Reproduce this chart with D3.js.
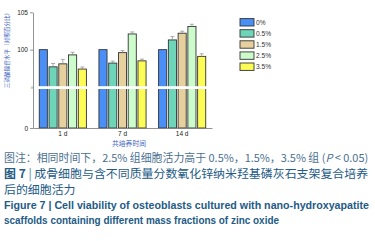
<!DOCTYPE html>
<html>
<head>
<meta charset="utf-8">
<script src="https://cdn.jsdelivr.net/npm/d3@7"></script>
<style>
  body { margin: 0; background: #fff; }
  svg { display: block; }
  .tick text { font-family: "Liberation Sans", Arial, sans-serif; }
</style>
</head>
<body>
<svg id="chart" width="375" height="241"></svg>
<script>
// data
const days = ['1 d', '7 d', '14 d'];
const groups = ['0%', '0.5%', '1.5%', '2.5%', '3.5%'];
const colors = ['#4a8ff5', '#6fd5b9', '#e6d19e', '#ccfccc', '#fdfb55'];
const values = [
  [100, 97.7, 98.1, 99.3, 97.4],
  [100, 98.2, 99.6, 102.1, 98.5],
  [100, 101.3, 102.2, 103.1, 99.1]
];
const errors = [
  [0, 0.45, 0.6, 0.35, 0.27],
  [0, 0.27, 0.27, 0.27, 0.23],
  [0, 0.45, 0.27, 0.3, 0.35]
];
const yTicks = [0, 100, 105];

const svg = d3.select('#chart');
const cnFont = '"Noto Sans CJK SC", "Noto Sans", sans-serif';
const enFont = '"Liberation Sans", Arial, sans-serif';

// shrink/grow a text's font so it spans the given width
const fitWidth = (sel, target) => {
  const fs = +sel.attr('font-size');
  const w = sel.node().getComputedTextLength();
  sel.attr('font-size', (fs * target / w).toFixed(2));
};

// broken axis: 0..95 squeezed into the bottom, 95..105 stretched on top
const y = d3.scaleLinear().domain([0, 95, 105]).range([128, 87, 12.3]);
const x0 = d3.scaleBand().domain(days).range([33, 212]).paddingInner(0.21).paddingOuter(0.105);
const x1 = d3.scaleBand().domain(groups).range([0, x0.bandwidth()]).paddingInner(0.17);

// bars
const g = svg.append('g');
days.forEach((day, i) => {
  const dg = g.append('g').attr('transform', `translate(${x0(day)},0)`);
  groups.forEach((grp, j) => {
    const v = values[i][j];
    dg.append('rect')
      .attr('x', x1(grp))
      .attr('y', y(v))
      .attr('width', x1.bandwidth())
      .attr('height', y(0) - y(v))
      .attr('fill', colors[j])
      .attr('stroke', '#333')
      .attr('stroke-width', 0.9);
    const e = errors[i][j];
    if (e > 0) {
      const cx = x1(grp) + x1.bandwidth() / 2;
      dg.append('line')
        .attr('x1', cx).attr('x2', cx)
        .attr('y1', y(v)).attr('y2', y(v + e))
        .attr('stroke', '#888').attr('stroke-width', 0.7);
      dg.append('line')
        .attr('x1', cx - 2).attr('x2', cx + 2)
        .attr('y1', y(v + e)).attr('y2', y(v + e))
        .attr('stroke', '#888').attr('stroke-width', 0.7);
    }
  });
});

// white break band through the bars
svg.append('rect')
  .attr('x', 36).attr('y', 86.2)
  .attr('width', 174).attr('height', 2.8)
  .attr('fill', '#fff');

// axes
const yAxis = svg.append('g')
  .attr('transform', 'translate(33,0)')
  .call(d3.axisLeft(y).tickValues(yTicks).tickSize(3).tickSizeOuter(0));
yAxis.select('.domain').attr('stroke', '#777').attr('stroke-width', 0.8);
yAxis.selectAll('.tick line').attr('stroke', '#777').attr('stroke-width', 0.8);
yAxis.selectAll('.tick text').attr('font-size', 6.5).attr('fill', '#222').attr('x', -5);

// break mark on the y axis
svg.append('text')
  .attr('x', 31.5).attr('y', 89.5)
  .attr('text-anchor', 'middle')
  .attr('font-size', 5)
  .attr('fill', '#555')
  .attr('font-family', enFont)
  .attr('transform', 'rotate(-70,31.5,87.5)')
  .text('≈');

const xAxis = svg.append('g')
  .attr('transform', 'translate(0,128)')
  .call(d3.axisBottom(x0).tickSize(0).tickSizeOuter(0));
xAxis.select('.domain').attr('stroke', '#777').attr('stroke-width', 0.8);
xAxis.selectAll('.tick text').attr('font-size', 6.5).attr('fill', '#222').attr('dy', '0.85em').attr('y', 2);

// axis titles
svg.append('text')
  .attr('transform', 'translate(8.5,49) rotate(-90)')
  .attr('text-anchor', 'middle')
  .attr('font-family', cnFont)
  .attr('font-size', 5.6)
  .attr('fill', '#3c62c0')
  .text('三磷酸腺苷水平（对照百分比）');

svg.append('text')
  .attr('x', 129).attr('y', 145.8)
  .attr('text-anchor', 'middle')
  .attr('font-family', cnFont)
  .attr('font-size', 6.8)
  .attr('fill', '#3c62c0')
  .text('共培养时间');

// legend
const legend = svg.append('g').attr('transform', 'translate(240,18.6)');
groups.forEach((grp, j) => {
  const row = legend.append('g').attr('transform', `translate(0,${j * 11.1})`);
  row.append('rect')
    .attr('width', 14).attr('height', 7.4)
    .attr('fill', colors[j])
    .attr('stroke', '#333').attr('stroke-width', 0.9);
  row.append('text')
    .attr('x', 16).attr('y', 6.4)
    .attr('font-family', enFont)
    .attr('font-size', 6.6)
    .attr('fill', '#333')
    .text(grp);
});

// caption
const cap = svg.append('g');
const note = cap.append('text')
  .attr('x', 4).attr('y', 162)
  .attr('font-family', cnFont)
  .attr('font-size', 11.2)
  .attr('fill', '#4a7090');
note.append('tspan').text('图注：相同时间下，2.5% 组细胞活力高于 0.5%，1.5%，3.5% 组 (');
note.append('tspan').attr('font-style', 'italic').text('P');
note.append('tspan').text(' < 0.05)');
fitWidth(note, 364);

const title = cap.append('text')
  .attr('x', 4).attr('y', 177.5)
  .attr('font-family', cnFont)
  .attr('font-size', 11.4)
  .attr('fill', '#235a86');
title.append('tspan').attr('font-weight', 'bold').text('图 7 ');
title.append('tspan').attr('fill', '#4a7ab0').text('| ');
title.append('tspan').text('成骨细胞与含不同质量分数氧化锌纳米羟基磷灰石支架复合培养');
fitWidth(title, 364);

cap.append('text')
  .attr('x', 4).attr('y', 193.5)
  .attr('font-family', cnFont)
  .attr('font-size', title.attr('font-size'))
  .attr('fill', '#235a86')
  .text('后的细胞活力');

cap.append('text')
  .attr('x', 4).attr('y', 209)
  .attr('font-family', enFont)
  .attr('font-weight', 'bold')
  .attr('font-size', 10.5)
  .attr('fill', '#235a86')
  .attr('textLength', 365)
  .attr('lengthAdjust', 'spacingAndGlyphs')
  .text('Figure 7  |  Cell viability of osteoblasts cultured with nano-hydroxyapatite');

cap.append('text')
  .attr('x', 4).attr('y', 224)
  .attr('font-family', enFont)
  .attr('font-weight', 'bold')
  .attr('font-size', 10.5)
  .attr('fill', '#235a86')
  .attr('textLength', 275)
  .attr('lengthAdjust', 'spacingAndGlyphs')
  .text('scaffolds containing different mass fractions of zinc oxide');
</script>
</body>
</html>
